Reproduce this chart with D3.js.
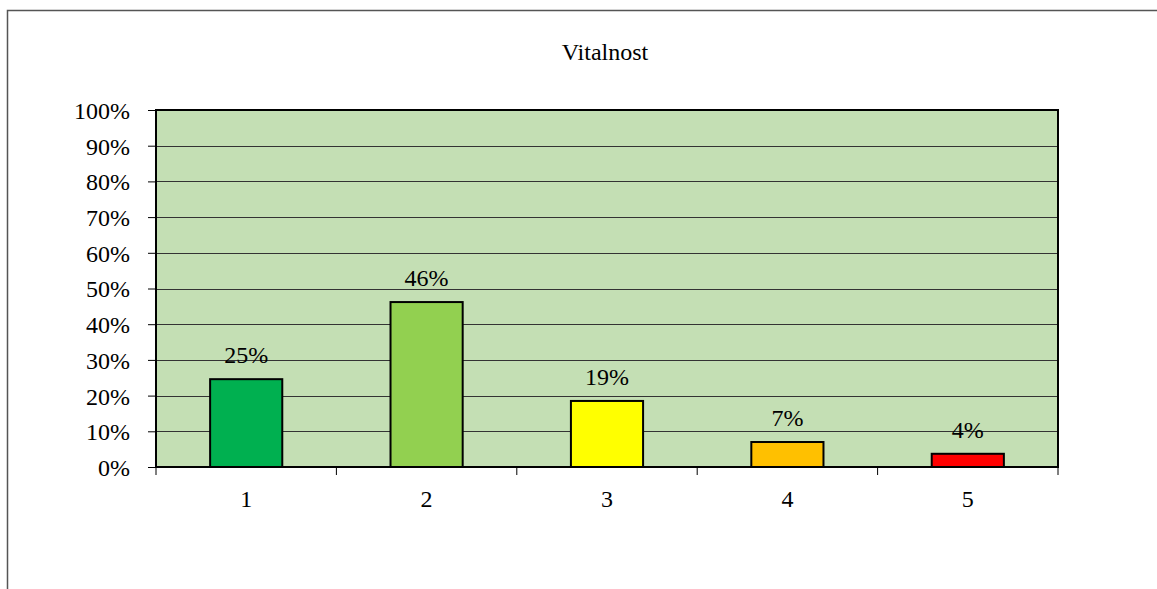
<!DOCTYPE html>
<html>
<head>
<meta charset="utf-8">
<script src="https://cdn.jsdelivr.net/npm/d3@7"></script>
<style>
  body { margin: 0; background: #fff; }
  svg text { font-family: "Liberation Serif", "Times New Roman", serif; fill: #000; }
</style>
</head>
<body>
<div id="chart"></div>
<script>
// chart data
const categories = ["1", "2", "3", "4", "5"];
const values = [0.246, 0.462, 0.185, 0.07, 0.037];
const valueLabels = ["25%", "46%", "19%", "7%", "4%"];
const barColors = ["#00B050", "#92D050", "#FFFF00", "#FFC000", "#FF0000"];
const yTicks = [0, 0.1, 0.2, 0.3, 0.4, 0.5, 0.6, 0.7, 0.8, 0.9, 1];
const title = "Vitalnost";

const width = 1157, height = 589;
const margin = { left: 156, right: 99, top: 110, bottom: 122 };
const innerW = width - margin.left - margin.right;
const innerH = height - margin.top - margin.bottom;

const svg = d3.select("#chart").append("svg")
  .attr("width", width)
  .attr("height", height);

// outer chart frame
svg.append("path")
  .attr("d", `M7.5,${height} V10.5 H${width}`)
  .attr("fill", "none")
  .attr("stroke", "#555")
  .attr("stroke-width", 1.5);

svg.append("text")
  .attr("x", 605)
  .attr("y", 60)
  .attr("text-anchor", "middle")
  .attr("font-size", 24)
  .text(title);

const g = svg.append("g")
  .attr("transform", `translate(${margin.left},${margin.top})`);

const x = d3.scaleBand()
  .domain(categories)
  .range([0, innerW])
  .paddingInner(0.6)
  .paddingOuter(0.3);

const y = d3.scaleLinear()
  .domain([0, 1])
  .range([innerH, 0]);

g.append("rect")
  .attr("width", innerW)
  .attr("height", innerH)
  .attr("fill", "#C4DFB4");

// gridlines
g.selectAll(".grid")
  .data(yTicks.slice(1, -1))
  .enter()
  .append("line")
  .attr("class", "grid")
  .attr("x1", 0)
  .attr("x2", innerW)
  .attr("y1", d => Math.round(y(d)) + 0.5)
  .attr("y2", d => Math.round(y(d)) + 0.5)
  .attr("stroke", "#333")
  .attr("stroke-width", 1);

// y axis
const yAxis = d3.axisLeft(y)
  .tickValues(yTicks)
  .tickFormat(d3.format(".0%"))
  .tickSize(8)
  .tickPadding(18);

const yg = g.append("g").call(yAxis);
yg.select(".domain").remove();
yg.selectAll(".tick line").attr("stroke", "#000");
yg.selectAll("text")
  .attr("font-size", 24)
  .attr("font-family", "Liberation Serif")
  .attr("dy", "0.35em");

// x axis ticks at category boundaries
const step = innerW / categories.length;
const xg = g.append("g").attr("transform", `translate(0,${innerH})`);
xg.selectAll("line")
  .data(d3.range(categories.length + 1))
  .enter()
  .append("line")
  .attr("x1", i => i * step)
  .attr("x2", i => i * step)
  .attr("y1", 0)
  .attr("y2", 8)
  .attr("stroke", "#000");
xg.selectAll("text")
  .data(categories)
  .enter()
  .append("text")
  .attr("x", d => x(d) + x.bandwidth() / 2)
  .attr("y", 40)
  .attr("text-anchor", "middle")
  .attr("font-size", 24)
  .text(d => d);

// bars
g.selectAll(".bar")
  .data(values)
  .enter()
  .append("rect")
  .attr("class", "bar")
  .attr("x", (d, i) => x(categories[i]))
  .attr("y", d => y(d))
  .attr("width", x.bandwidth())
  .attr("height", d => innerH - y(d))
  .attr("fill", (d, i) => barColors[i])
  .attr("stroke", "#000")
  .attr("stroke-width", 2);

// value labels
g.selectAll(".label")
  .data(values)
  .enter()
  .append("text")
  .attr("class", "label")
  .attr("x", (d, i) => x(categories[i]) + x.bandwidth() / 2)
  .attr("y", d => y(d) - 16)
  .attr("text-anchor", "middle")
  .attr("font-size", 24)
  .text((d, i) => valueLabels[i]);

// plot border
g.append("rect")
  .attr("width", innerW)
  .attr("height", innerH)
  .attr("fill", "none")
  .attr("stroke", "#000")
  .attr("stroke-width", 2);
</script>
</body>
</html>
